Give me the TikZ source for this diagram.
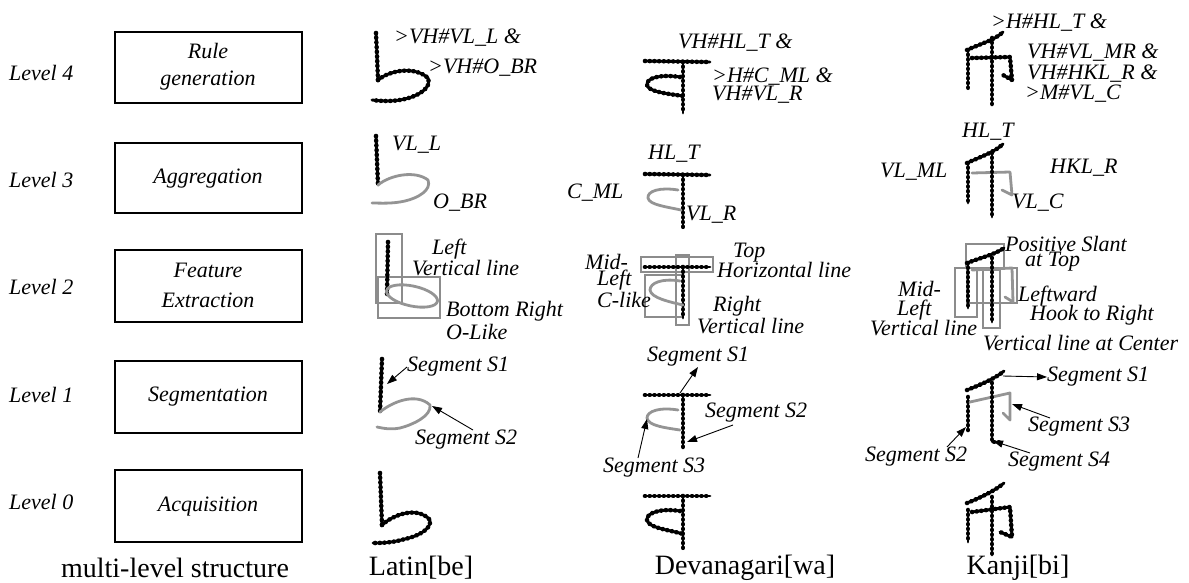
\documentclass[tikz,border=0pt]{standalone}
\usepackage{fontspec}
\setmainfont{Liberation Serif}
\usetikzlibrary{arrows.meta}
\begin{document}
\begin{tikzpicture}[x=1pt,y=-1pt,
  lbl/.style={font=\fontsize{22}{23}\selectfont\itshape, inner sep=0pt, anchor=west},
  clbl/.style={font=\fontsize{22}{23}\selectfont\itshape, inner sep=0pt, align=center},
  captxt/.style={font=\fontsize{28}{30}\selectfont, inner sep=0pt},
  stagebox/.style={draw, line width=1.4pt},
  ink/.style={draw=black, line width=2.9pt, line cap=round, line join=round,
    postaction={draw=black, line width=4.6pt, dash pattern=on 0.1pt off 4.6pt}},
  gink/.style={draw=black!42, line width=2.8pt, line cap=round, line join=round},
  frm/.style={draw=black!45, line width=2.6pt},
  arr/.style={-{Triangle[length=10pt,width=7pt]}, line width=0.9pt}]
\useasboundingbox (0,0) rectangle (1189,582);

% ---------- level labels and boxes ----------
\node[lbl] (lv4) at (9,73) {Level 4};
\node[lbl] (lv3) at (9,180) {Level 3};
\node[lbl] (lv2) at (9,287) {Level 2};
\node[lbl] (lv1) at (9,395) {Level 1};
\node[lbl] (lv0) at (9,502) {Level 0};

\draw[stagebox] (115,32) rectangle (302,103);
\draw[stagebox] (115,143) rectangle (302,213);
\draw[stagebox] (115,250) rectangle (302,322);
\draw[stagebox] (115,361) rectangle (302,433);
\draw[stagebox] (115,470) rectangle (302,542);
\node[clbl] (b4) at (208,67) {Rule\\[4pt]generation};
\node[clbl] (b3) at (208,179) {Aggregation};
\node[clbl] (b2) at (208,285) {Feature\\[7pt]Extraction};
\node[clbl] (b1) at (208,397) {Segmentation};
\node[clbl] (b0) at (208,507) {Acquisition};

% ---------- captions ----------
\node[captxt] (c0) at (175,568) {multi-level structure};
\node[captxt] (c1) at (421,568) {Latin[be]};
\node[captxt] (c2) at (745,568) {Devanagari[wa]};
\node[captxt] (c3) at (1018,568) {Kanji[bi]};

% ================= LATIN =================
% level 4
\draw[ink] (376,33) -- (377,55) -- (378,80);
\draw[ink] (378,80) .. controls (390,70) and (415,66) .. (428,78)
  .. controls (432,88) and (418,96) .. (405,99) .. controls (392,102) and (380,101) .. (372,100);
\node[lbl] (l4a) at (394,38) {>VH\#VL\_L \&};
\node[lbl] (l4b) at (428,68) {>VH\#O\_BR};
% level 3
\draw[ink] (376,136) -- (378,185);
\draw[gink] (378,185) .. controls (390,175) and (415,170) .. (428,180)
  .. controls (432,190) and (418,198) .. (405,201) .. controls (392,204) and (380,203) .. (372,203);
\node[lbl] (l3a) at (392,145) {VL\_L};
\node[lbl] (l3b) at (433,203) {O\_BR};
% level 2
\draw[frm] (376,234) rectangle (402,303);
\draw[frm] (378,277) rectangle (440,318);
\draw[ink] (388,242) -- (387,295);
\draw[gink, rotate around={-12:(412,296)}] (412,296) ellipse (26 and 10);
\node[lbl] (l2a) at (432,249) {Left};
\node[lbl] (l2b) at (412,268) {Vertical line};
\node[lbl] (l2c) at (446,311) {Bottom Right};
\node[lbl] (l2d) at (446,332) {O-Like};
% level 1
\draw[ink] (382,359) -- (380,412);
\draw[gink] (380,412) .. controls (392,402) and (416,392) .. (430,405)
  .. controls (432,416) and (412,425) .. (400,428) .. controls (390,430) and (382,428) .. (377,427);
\coordinate (p1s1) at (387,384);
\coordinate (p1s2) at (432,406);
\node[lbl] (l1a) at (407,367) {Segment S1};
\node[lbl] (l1b) at (415,440) {Segment S2};
\draw[arr] (l1a.west) -- (p1s1);
\draw[arr] (473,430) -- (p1s2);
% level 0
\draw[ink] (380,473) -- (382,525);
\draw[ink] (382,525) .. controls (394,514) and (418,506) .. (430,520)
  .. controls (432,530) and (415,537) .. (405,539) .. controls (392,543) and (380,543) .. (373,543);

% ================= DEVANAGARI =================
% level 4
\draw[ink] (645,61) -- (710,62);
\draw[ink] (683,62) -- (683,113);
\draw[ink] (680,77) .. controls (660,74) and (646,78) .. (647,85)
  .. controls (648,92) and (670,94) .. (683,96);
\node[lbl] (d4a) at (678,43) {VH\#HL\_T \&};
\node[lbl] (d4b) at (712,77) {>H\#C\_ML \&};
\node[lbl] (d4c) at (712,95) {VH\#VL\_R};
% level 3
\draw[ink] (645,174) -- (710,175);
\draw[ink] (683,175) -- (683,227);
\draw[gink] (678,190) .. controls (660,187) and (647,191) .. (648,198)
  .. controls (649,205) and (668,207) .. (681,210);
\node[lbl] (d3a) at (648,154) {HL\_T};
\node[lbl] (d3b) at (567,193) {C\_ML};
\node[lbl] (d3c) at (686,215) {VL\_R};
% level 2
\draw[frm] (645,275) rectangle (683,317);
\draw[frm] (641,257) rectangle (713,272);
\draw[frm] (676,255) rectangle (689,325);
\draw[ink] (645,267) -- (710,267);
\draw[ink] (683,267) -- (683,318);
\draw[gink] (680,281) .. controls (662,278) and (650,283) .. (650,290)
  .. controls (651,298) and (670,302) .. (683,305);
\node[lbl] (d2a) at (585,262) {Mid-};
\node[lbl] (d2b) at (597,280) {Left};
\node[lbl] (d2c) at (597,300) {C-like};
\node[lbl] (d2d) at (733,253) {Top};
\node[lbl] (d2e) at (717,270) {Horizontal line};
\node[lbl] (d2f) at (713,306) {Right};
\node[lbl] (d2g) at (697,326) {Vertical line};
% level 1
\draw[ink] (645,395) -- (710,395);
\draw[ink] (683,395) -- (683,448);
\draw[gink] (678,410) .. controls (660,407) and (647,411) .. (647,418)
  .. controls (648,426) and (667,428) .. (680,430);
\coordinate (ds1) at (680,393);
\coordinate (ds2) at (687,442);
\coordinate (ds3) at (647,419);
\node[lbl] (d1a) at (647,357) {Segment S1};
\node[lbl] (d1b) at (705,413) {Segment S2};
\node[lbl] (d1c) at (603,468) {Segment S3};
\draw[arr] (ds1) -- (698,367);
\draw[arr] (733,425) -- (ds2);
\draw[arr] (638,458) -- (ds3);
% level 0
\draw[ink] (645,496) -- (710,496);
\draw[ink] (683,496) -- (683,548);
\draw[ink] (680,511) .. controls (660,508) and (646,513) .. (647,520)
  .. controls (648,528) and (670,530) .. (683,534);

% ================= KANJI =================
% level 4
\draw[ink] (967,50) .. controls (980,44) and (995,40) .. (1003,32);
\draw[ink] (968,50) -- (968,88);
\draw[ink] (972,58) -- (1010,57) -- (1012,80) -- (1003,75);
\draw[ink] (992,38) -- (992,105);
\node[lbl] (k4a) at (991,23) {>H\#HL\_T \&};
\node[lbl] (k4b) at (1027,53) {VH\#VL\_MR \&};
\node[lbl] (k4c) at (1027,74) {VH\#HKL\_R \&};
\node[lbl] (k4d) at (1025,94) {>M\#VL\_C};
% level 3
\draw[ink] (967,163) .. controls (980,157) and (995,152) .. (1003,144);
\draw[ink] (968,163) -- (968,203);
\draw[gink] (972,173) -- (1010,172) -- (1012,195) -- (1002,190);
\draw[ink] (992,153) -- (992,217);
\node[lbl] (k3a) at (962,132) {HL\_T};
\node[lbl] (k3b) at (880,172) {VL\_ML};
\node[lbl] (k3c) at (1050,168) {HKL\_R};
\node[lbl] (k3d) at (1012,203) {VL\_C};
% level 2
\draw[frm] (966,244) rectangle (1004,268);
\draw[frm] (955,268) rectangle (977,317);
\draw[frm] (967,268) rectangle (1017,303);
\draw[frm] (983,270) rectangle (1000,328);
\draw[ink] (967,263) .. controls (980,258) and (996,254) .. (1004,248);
\draw[ink] (968,263) -- (968,308);
\draw[gink] (972,270) -- (1012,268) -- (1013,302) -- (1005,297);
\draw[ink] (992,258) -- (992,322);
\node[lbl] (k2a) at (1005,244) {Positive Slant};
\node[lbl] (k2b) at (1025,262) {at Top};
\node[lbl] (k2c) at (898,289) {Mid-};
\node[lbl] (k2d) at (897,310) {Left};
\node[lbl] (k2e) at (870,328) {Vertical line};
\node[lbl] (k2f) at (1018,296) {Leftward};
\node[lbl] (k2g) at (1030,315) {Hook to Right};
\node[lbl] (k2h) at (983,343) {Vertical line at Center};
% level 1
\draw[ink] (967,390) .. controls (980,385) and (996,378) .. (1004,371);
\draw[ink] (968,397) -- (968,430);
\draw[gink] (970,402) -- (1010,393) -- (1010,420) -- (1003,413);
\draw[ink] (992,383) -- (992,442) -- (1000,442);
\coordinate (ks1) at (1003,376);
\coordinate (ks2) at (966,427);
\coordinate (ks3) at (1012,404);
\coordinate (ks4) at (993,441);
\node[lbl] (k1a) at (1047,377) {Segment S1};
\node[lbl] (k1b) at (865,457) {Segment S2};
\node[lbl] (k1c) at (1028,427) {Segment S3};
\node[lbl] (k1d) at (1008,462) {Segment S4};
\draw[arr] (ks1) -- (k1a.west);
\draw[arr] (947,447) -- (ks2);
\draw[arr] (1050,418) -- (ks3);
\draw[arr] (1030,453) -- (ks4);
% level 0
\draw[ink] (967,503) .. controls (980,498) and (996,490) .. (1004,483);
\draw[ink] (968,510) -- (968,542);
\draw[ink] (972,512) -- (1010,507) -- (1012,537) -- (1000,532);
\draw[ink] (992,497) -- (992,555);
\end{tikzpicture}
\end{document}
